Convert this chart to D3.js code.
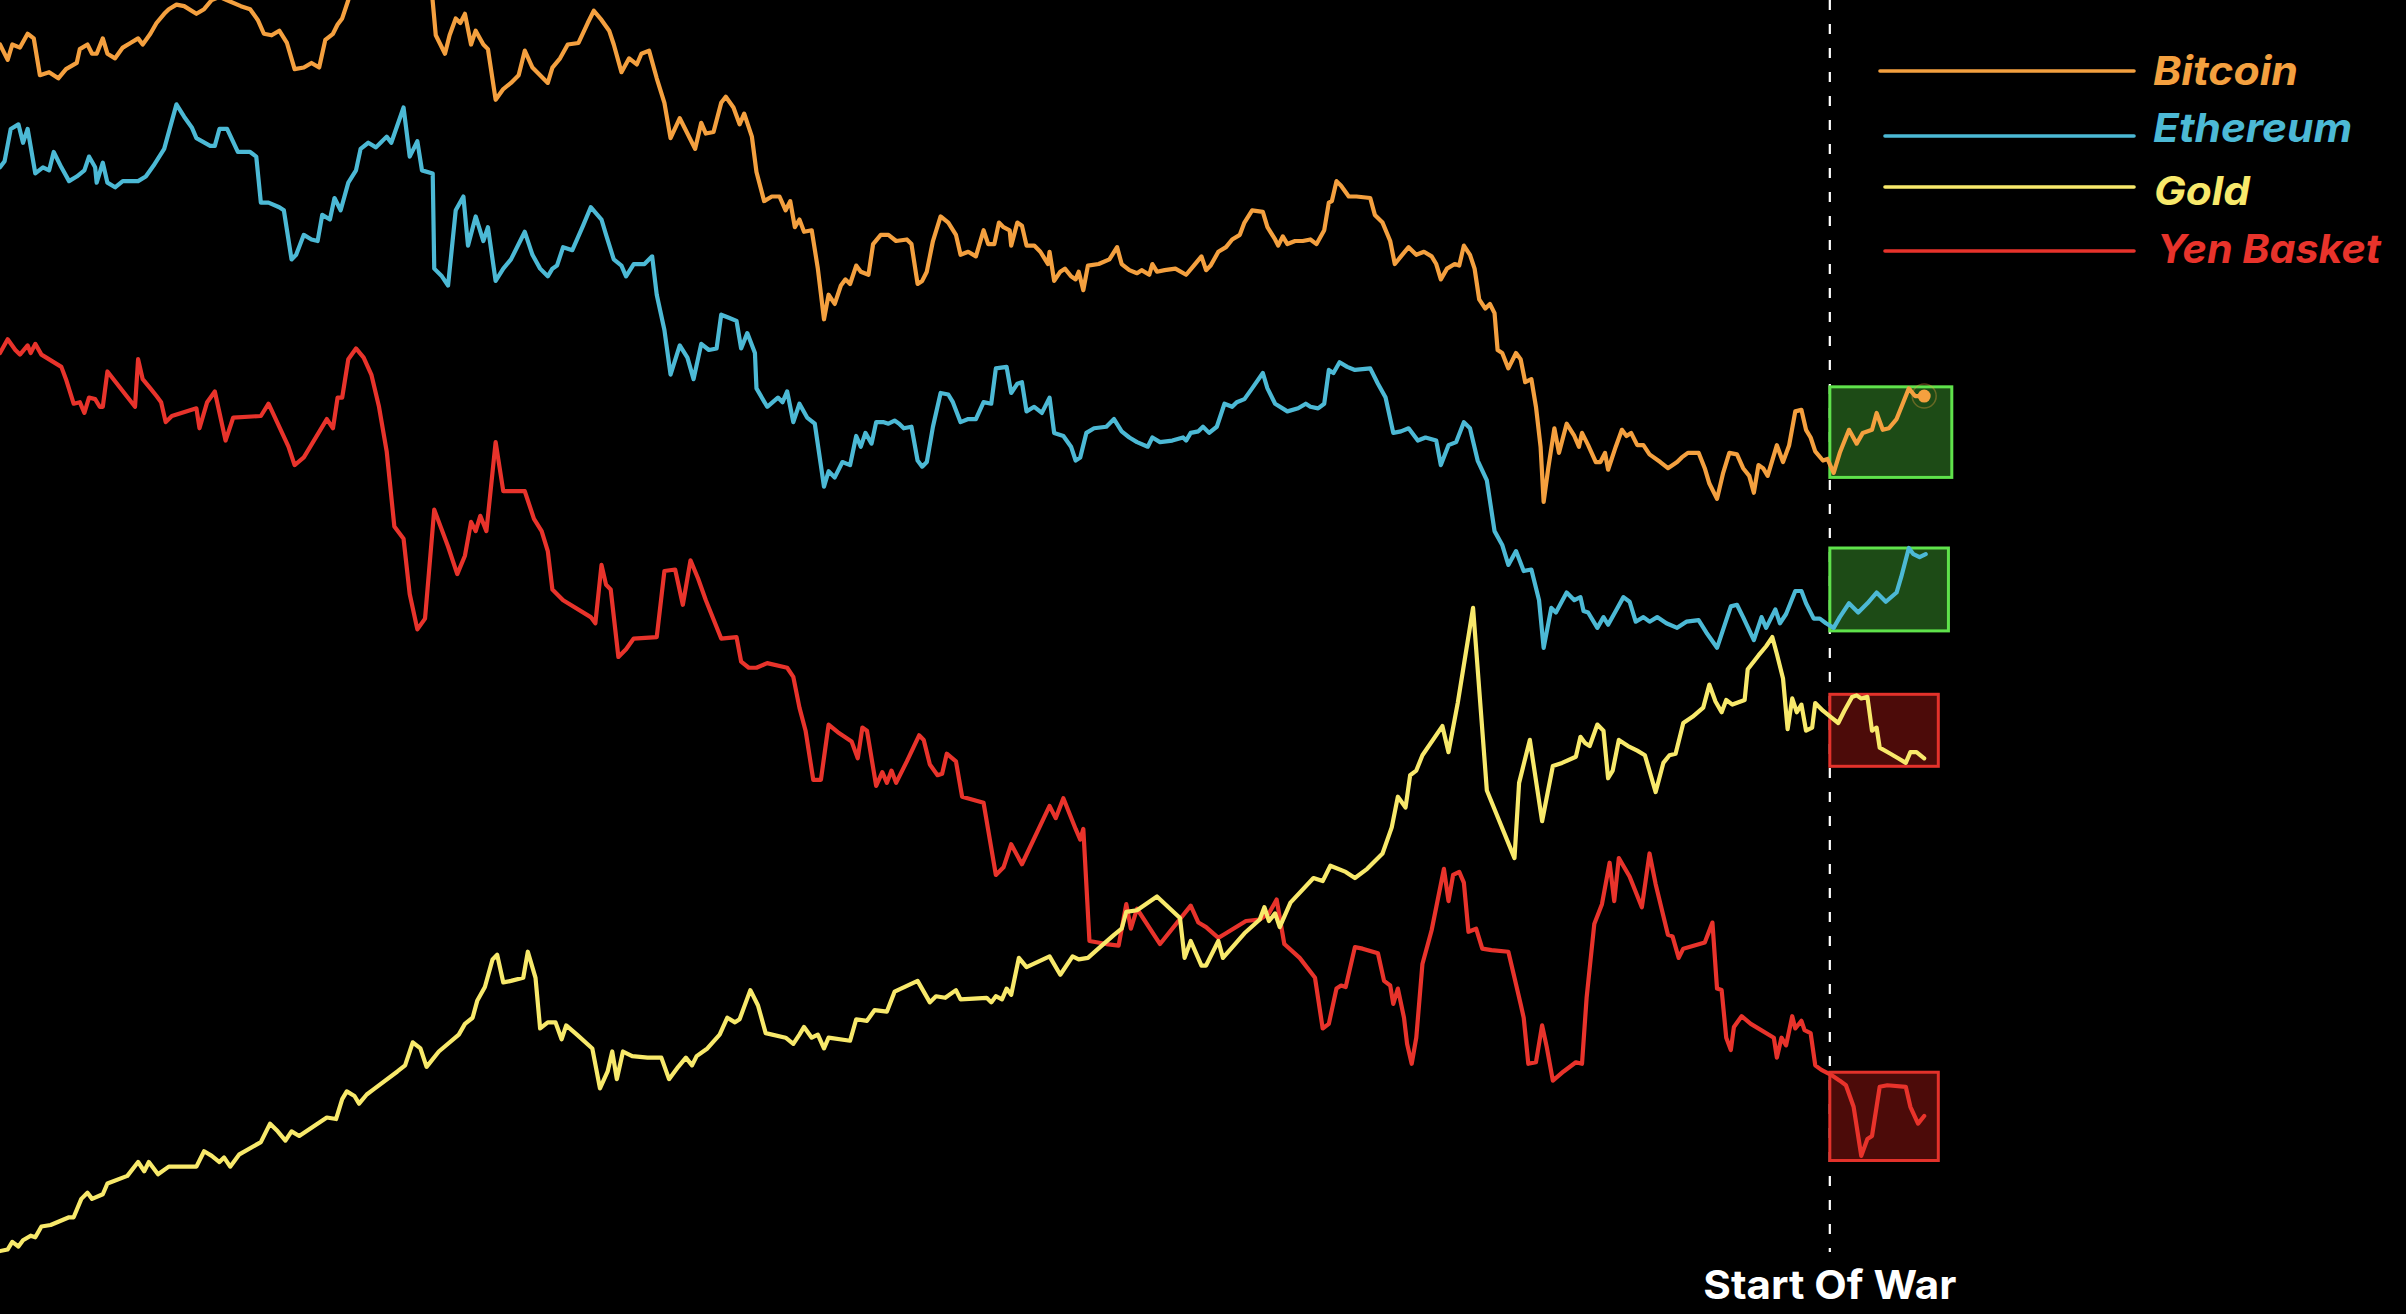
<!DOCTYPE html>
<html>
<head>
<meta charset="utf-8">
<script src="https://cdn.jsdelivr.net/npm/d3@7"></script>
<style>
  html, body { margin: 0; padding: 0; background: #000; overflow: hidden; }
  svg { display: block; }
</style>
</head>
<body>
<svg id="chart" width="2406" height="1314"></svg>
<script>
// ---- DATA: [time index, relative performance index] ----
const bitcoin = [[0,827],[5,817],[8,827],[13,825],[18,834],[22,831],[26,807],[32,809],[38,805],[43,811],[50,815],[52,824],[57,827],[60,821],[63,821],[67,831],[70,821],[75,818],[80,825],[85,828],[90,831],[93,827],[98,834],[102,841],[107,847],[110,850],[115,853],[120,852],[128,847],[133,850],[138,856],[143,858],[150,855],[157,852],[163,850],[168,843],[172,834],[177,833],[182,836],[187,828],[192,811],[198,812],[203,815],[208,812],[212,830],[217,834],[220,840],[223,844],[227,856],[233,876],[241,896],[250,886],[260,906],[270,891],[278,871],[281,866],[284,833],[290,821],[293,833],[297,844],[300,841],[303,847],[307,827],[310,836],[315,827],[318,824],[323,791],[328,798],[333,802],[338,807],[342,823],[347,812],[352,807],[357,802],[360,812],[365,818],[370,827],[377,828],[383,841],[387,849],[392,843],[397,836],[400,827],[405,809],[410,818],[415,814],[418,821],[423,823],[428,805],[433,789],[437,766],[443,779],[448,769],[453,759],[457,776],[460,769],[465,770],[470,789],[473,793],[478,786],[482,775],[485,782],[490,767],[493,744],[498,725],[503,728],[508,728],[512,719],[515,725],[518,708],[521,713],[524,705],[529,706],[533,681],[537,648],[540,664],[544,658],[548,670],[551,674],[554,671],[558,683],[561,679],[566,677],[569,697],[574,703],[579,703],[584,699],[591,700],[594,697],[598,671],[601,673],[604,679],[608,699],[613,715],[618,711],[623,703],[626,690],[631,692],[636,689],[641,706],[644,697],[648,697],[651,711],[654,708],[658,706],[659,696],[663,711],[666,709],[669,696],[674,696],[678,692],[683,684],[684,692],[687,673],[691,679],[694,681],[698,676],[701,674],[703,679],[706,667],[709,683],[716,684],[723,687],[728,695],[731,684],[736,680],[741,678],[744,680],[749,677],[751,684],[754,679],[759,680],[766,681],[773,677],[778,683],[783,689],[786,680],[789,683],[794,692],[799,695],[803,700],[808,703],[811,711],[816,719],[823,718],[826,708],[831,700],[833,696],[836,702],[839,697],[844,699],[849,699],[854,700],[858,697],[863,706],[866,724],[868,725],[871,738],[874,735],[879,728],[884,728],[893,727],[896,716],[901,711],[906,699],[909,684],[913,689],[918,695],[923,690],[928,692],[933,689],[936,684],[939,674],[943,681],[948,684],[951,683],[954,696],[958,690],[961,681],[964,661],[968,655],[971,658],[974,652],[976,628],[979,626],[983,616],[988,626],[991,622],[994,607],[998,609],[1001,591],[1004,565],[1006,529],[1009,551],[1013,577],[1016,561],[1021,580],[1026,572],[1029,565],[1031,574],[1035,566],[1040,555],[1043,555],[1046,561],[1048,550],[1053,565],[1057,576],[1060,572],[1063,574],[1067,566],[1071,566],[1075,560],[1082,555],[1087,551],[1093,555],[1096,558],[1100,561],[1107,561],[1111,551],[1114,541],[1119,531],[1123,548],[1127,561],[1132,560],[1136,551],[1140,546],[1143,535],[1146,553],[1149,551],[1152,546],[1158,566],[1162,555],[1166,566],[1170,588],[1174,589],[1177,576],[1180,571],[1183,562],[1188,556],[1191,557],[1195,548],[1199,561],[1205,576],[1210,567],[1214,574],[1220,576],[1223,587],[1227,576],[1231,577],[1236,583],[1240,593],[1244,603],[1248,598],[1254,598]];

const ethereum = [[0,747],[3,751],[7,772],[12,775],[15,763],[18,772],[23,743],[28,747],[32,745],[35,757],[40,747],[45,738],[50,741],[55,745],[58,754],[62,747],[63,737],[67,750],[70,737],[75,734],[80,738],[90,738],[95,741],[100,748],[107,759],[115,788],[120,780],[125,773],[128,766],[137,761],[140,761],[143,772],[148,772],[155,757],[163,757],[167,754],[170,724],[175,724],[182,721],[185,719],[190,687],[193,690],[198,703],[203,700],[207,699],[210,716],[215,713],[218,727],[222,719],[227,737],[232,745],[235,759],[240,763],[245,760],[248,763],[252,767],[255,763],[263,786],[267,754],[272,764],[275,745],[282,743],[283,681],[288,676],[292,670],[297,719],[302,728],[305,696],[310,715],[315,699],[318,708],[323,673],[328,681],[333,687],[342,705],[347,690],[352,681],[357,676],[360,681],[363,683],[367,695],[373,693],[380,709],[385,721],[392,713],[395,703],[400,687],[405,683],[408,676],[413,684],[420,684],[425,689],[428,664],[433,641],[437,612],[443,631],[448,623],[452,609],[457,632],[462,628],[467,629],[470,651],[475,649],[480,647],[483,629],[487,639],[492,626],[493,603],[500,591],[507,597],[510,594],[513,601],[517,581],[521,593],[526,584],[531,580],[537,539],[540,549],[544,545],[549,555],[554,553],[558,572],[561,565],[564,574],[568,567],[571,581],[576,581],[579,580],[583,582],[586,580],[589,577],[594,578],[598,556],[601,552],[604,555],[608,578],[613,600],[618,599],[621,594],[626,581],[631,583],[636,583],[641,594],[646,593],[649,616],[656,617],[659,600],[663,606],[666,607],[669,588],[674,591],[679,587],[684,597],[687,574],[693,572],[698,565],[701,556],[704,558],[708,574],[713,577],[721,578],[726,583],[731,575],[736,571],[741,568],[748,565],[751,571],[756,568],[764,569],[771,571],[773,569],[776,574],[781,575],[784,578],[788,574],[793,578],[798,593],[803,591],[806,594],[811,596],[816,603],[823,613],[826,603],[831,593],[839,588],[846,590],[851,593],[854,591],[859,590],[863,593],[866,615],[869,613],[873,620],[878,617],[883,615],[893,616],[898,606],[903,597],[908,574],[913,575],[918,577],[924,569],[929,571],[936,569],[939,553],[944,566],[949,568],[954,581],[958,577],[963,556],[969,543],[974,510],[979,501],[983,488],[988,497],[993,484],[998,485],[1003,465],[1006,434],[1011,460],[1014,457],[1021,470],[1026,465],[1030,467],[1032,458],[1035,457],[1041,447],[1045,454],[1048,449],[1053,458],[1058,467],[1062,464],[1066,451],[1071,454],[1075,451],[1080,454],[1086,450],[1093,447],[1099,451],[1107,452],[1112,444],[1119,434],[1128,461],[1132,462],[1136,454],[1143,439],[1148,454],[1151,447],[1157,459],[1160,450],[1164,456],[1170,471],[1174,471],[1177,463],[1182,453],[1186,453],[1190,450],[1195,447],[1199,454],[1205,463],[1211,457],[1217,463],[1223,470],[1229,464],[1236,470],[1239,480],[1244,499],[1247,495],[1251,493],[1255,495]];

const gold = [[0,41],[5,42],[8,47],[12,44],[15,48],[20,51],[23,50],[27,57],[33,58],[45,63],[48,63],[53,75],[57,79],[60,75],[67,78],[70,85],[83,90],[90,99],[94,93],[97,99],[103,91],[110,96],[128,96],[133,106],[138,103],[143,99],[146,102],[150,96],[156,104],[170,112],[176,124],[181,119],[186,113],[190,119],[195,116],[213,128],[219,127],[223,140],[226,145],[231,142],[234,137],[239,143],[243,146],[259,158],[264,162],[269,177],[274,173],[278,161],[286,171],[299,182],[303,189],[308,193],[311,204],[316,213],[321,231],[324,234],[328,216],[333,217],[341,219],[344,236],[349,219],[352,186],[357,190],[362,190],[366,179],[369,188],[376,182],[386,173],[391,147],[396,158],[399,171],[402,153],[406,171],[412,168],[422,167],[431,167],[436,153],[442,161],[447,167],[451,162],[454,168],[461,173],[469,182],[474,193],[479,190],[482,192],[489,211],[494,201],[499,183],[512,180],[517,176],[521,182],[524,187],[529,180],[533,182],[537,173],[540,180],[554,178],[558,192],[565,191],[570,198],[578,197],[583,210],[598,217],[606,203],[610,207],[616,206],[623,211],[626,205],[643,206],[646,203],[649,207],[653,205],[656,212],[659,208],[664,232],[669,226],[684,233],[691,221],[699,233],[703,231],[709,232],[718,240],[726,247],[731,251],[734,262],[741,263],[754,272],[769,258],[772,232],[776,243],[783,227],[786,227],[794,243],[797,232],[811,248],[821,257],[824,265],[827,256],[831,261],[834,252],[841,268],[856,284],[862,282],[867,292],[877,288],[883,284],[891,290],[901,300],[907,317],[911,337],[916,330],[919,351],[923,354],[927,364],[940,383],[944,366],[950,398],[960,460],[969,341],[987,297],[990,346],[997,374],[1005,321],[1012,357],[1018,359],[1027,363],[1030,376],[1033,372],[1036,370],[1041,384],[1045,380],[1048,349],[1051,354],[1055,374],[1061,370],[1067,367],[1072,364],[1079,340],[1084,359],[1088,364],[1092,365],[1097,385],[1103,389],[1110,395],[1114,410],[1118,399],[1122,392],[1125,400],[1129,397],[1137,400],[1139,420],[1146,429],[1151,435],[1155,441],[1158,430],[1162,414],[1165,381],[1168,401],[1171,392],[1174,397],[1177,380],[1181,382],[1183,398],[1188,393],[1193,389],[1198,385],[1202,393],[1207,402],[1210,403],[1213,401],[1217,402],[1220,380],[1223,382],[1225,369],[1232,365],[1237,362],[1242,359],[1245,366],[1249,366],[1254,362]];

const yenBasket = [[0,626],[5,635],[10,628],[13,625],[18,631],[20,626],[23,632],[27,625],[40,617],[43,609],[48,593],[52,594],[55,587],[58,597],[62,596],[65,591],[67,591],[70,614],[88,591],[90,622],[93,609],[98,603],[102,598],[105,594],[108,581],[112,585],[128,590],[130,577],[135,594],[140,601],[147,569],[152,584],[170,585],[175,593],[188,565],[192,553],[198,558],[213,583],[217,577],[220,597],[223,597],[227,622],[232,629],[237,623],[242,612],[247,591],[252,562],[257,513],[263,505],[267,469],[272,446],[277,453],[283,524],[292,500],[298,482],[303,494],[307,516],[310,510],[313,520],[317,510],[323,568],[328,536],[342,536],[348,518],[353,510],[357,497],[360,472],[367,465],[385,454],[388,450],[392,488],[395,475],[398,472],[403,428],[408,433],[413,440],[428,441],[433,484],[440,485],[445,462],[450,491],[455,479],[460,465],[470,440],[480,441],[483,425],[488,421],[493,421],[500,424],[513,421],[517,415],[521,395],[525,380],[530,348],[535,348],[540,384],[546,379],[555,373],[559,362],[562,382],[565,380],[571,344],[575,353],[578,346],[581,354],[584,346],[591,360],[599,377],[602,374],[606,358],[611,351],[614,352],[617,365],[623,360],[627,337],[641,333],[649,286],[654,291],[659,306],[666,293],[684,331],[688,323],[693,336],[701,316],[704,309],[706,316],[710,243],[721,241],[729,240],[734,267],[737,251],[741,264],[756,241],[776,266],[781,255],[786,252],[794,245],[799,248],[812,256],[821,257],[827,261],[832,270],[837,241],[847,232],[857,219],[862,186],[866,189],[871,212],[874,214],[877,213],[883,239],[888,238],[898,235],[902,217],[906,214],[908,202],[911,212],[915,193],[917,176],[920,163],[923,180],[927,228],[933,250],[941,290],[944,269],[947,286],[951,288],[954,281],[957,249],[962,251],[966,238],[972,237],[983,236],[987,219],[991,202],[993,193],[996,163],[1001,164],[1005,188],[1008,174],[1012,152],[1019,158],[1027,164],[1031,163],[1034,206],[1039,254],[1044,267],[1049,294],[1052,269],[1055,297],[1062,285],[1070,265],[1075,300],[1079,280],[1087,247],[1090,246],[1094,232],[1097,238],[1111,242],[1116,255],[1119,212],[1122,211],[1125,180],[1128,172],[1130,187],[1135,194],[1141,189],[1156,180],[1158,167],[1161,180],[1164,175],[1168,194],[1170,186],[1174,191],[1176,185],[1180,183],[1183,162],[1187,159],[1193,156],[1199,152],[1203,149],[1208,135],[1213,103],[1217,114],[1220,116],[1225,148],[1230,149],[1242,148],[1245,135],[1250,124],[1254,129]];

const seriesNames = ["Bitcoin", "Ethereum", "Gold", "Yen Basket"];
const seriesColors = ["#F4A03F", "#4CB9D5", "#F8E96B", "#E8332B"];
const warIndex = 1192.5;
const warLabel = "Start Of War";
// highlight boxes after the war start: [end index, low value, high value]
const boxEnds = [1272, 1269.8, 1263.2, 1263.2];
const boxLows = [545, 445, 356.8, 100];
const boxHighs = [604, 499, 403.7, 157.5];
const boxKinds = ["gain", "gain", "loss", "loss"];

// ---- CHART ----
const W = 2406, H = 1314;
const svg = d3.select("#chart");
svg.append("rect").attr("width", W).attr("height", H).attr("fill", "#000");

const x = d3.scaleLinear().domain([0, 1568]).range([0, W]);
const y = d3.scaleLinear().domain([0, 856]).range([H, 0]);

const allSeries = [bitcoin, ethereum, gold, yenBasket];

// war line
svg.append("line")
  .attr("x1", x(warIndex)).attr("x2", x(warIndex))
  .attr("y1", 0).attr("y2", 1252)
  .attr("stroke", "#fff").attr("stroke-width", 2.2)
  .attr("stroke-dasharray", "10,14");

// boxes
const boxFill = {gain: "#1d4b16", loss: "#4c0b09"};
const boxStroke = {gain: "#5fe24b", loss: "#e3322b"};
boxEnds.forEach((end, i) => {
  svg.append("rect")
    .attr("x", x(warIndex))
    .attr("y", y(boxHighs[i]))
    .attr("width", x(end) - x(warIndex))
    .attr("height", y(boxLows[i]) - y(boxHighs[i]))
    .attr("fill", boxFill[boxKinds[i]])
    .attr("stroke", boxStroke[boxKinds[i]])
    .attr("stroke-width", 3);
});

// lines
const line = d3.line().x(d => x(d[0])).y(d => y(d[1]));
const drawOrder = [3, 2, 1, 0];
drawOrder.forEach(i => {
  svg.append("path")
    .datum(allSeries[i])
    .attr("d", line)
    .attr("fill", "none")
    .attr("stroke", seriesColors[i])
    .attr("stroke-width", 4.2)
    .attr("stroke-linejoin", "round")
    .attr("stroke-linecap", "round");
});

// end dot on bitcoin
const last = bitcoin[bitcoin.length - 1];
svg.append("circle").attr("cx", x(last[0])).attr("cy", y(last[1])).attr("r", 12)
  .attr("fill", "none").attr("stroke", seriesColors[0]).attr("stroke-opacity", 0.35).attr("stroke-width", 1.5);
svg.append("circle").attr("cx", x(last[0])).attr("cy", y(last[1])).attr("r", 6.5)
  .attr("fill", seriesColors[0]);

// war label
svg.append("text")
  .attr("x", x(warIndex)).attr("y", 1299)
  .attr("text-anchor", "middle")
  .attr("fill", "#fff")
  .attr("font-family", "Inter, 'Open Sans', Roboto, sans-serif")
  .attr("font-weight", 700)
  .attr("font-size", 40)
  .attr("textLength", 253)
  .attr("lengthAdjust", "spacingAndGlyphs")
  .text(warLabel);

// legend
const legLineY = [71, 136, 187, 251];
const legLineX0 = [1880, 1885, 1885, 1885];
const legTextY = [85, 142, 205, 263];
const legTextX = [2153, 2153, 2154, 2157];
const legTextW = [145, 199, 96, 224];
const leg = svg.append("g");
seriesNames.forEach((name, i) => {
  leg.append("line")
    .attr("x1", legLineX0[i]).attr("x2", 2134)
    .attr("y1", legLineY[i]).attr("y2", legLineY[i])
    .attr("stroke", seriesColors[i]).attr("stroke-width", 3.6)
    .attr("stroke-linecap", "round");
  leg.append("text")
    .attr("x", legTextX[i]).attr("y", legTextY[i])
    .attr("fill", seriesColors[i])
    .attr("font-family", "Inter, 'Open Sans', Roboto, sans-serif")
    .attr("font-weight", 700)
    .attr("font-style", "italic")
    .attr("font-size", 40)
    .attr("textLength", legTextW[i])
    .attr("lengthAdjust", "spacingAndGlyphs")
    .text(name);
});
</script>
</body>
</html>
